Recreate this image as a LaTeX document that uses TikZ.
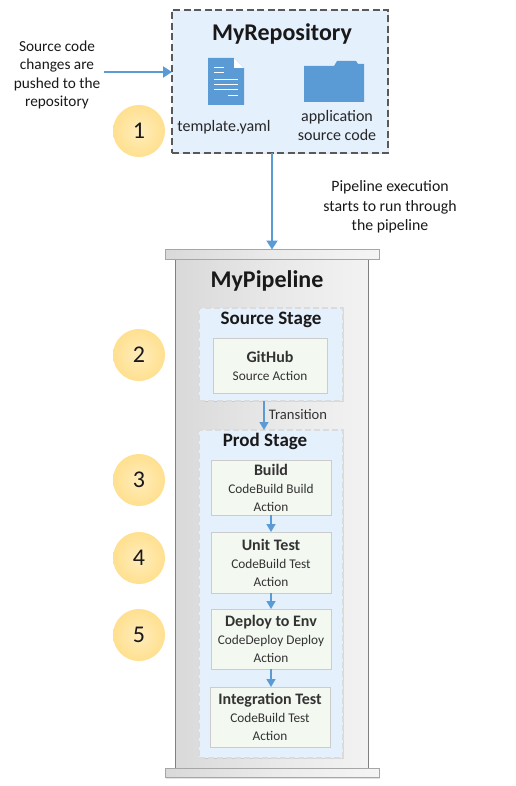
\documentclass[tikz,border=0pt]{standalone}
\usepackage{fontspec}
\setmainfont{Carlito}
\usetikzlibrary{arrows.meta,shadows,calc}
\definecolor{flow}{HTML}{5B9BD5}
\definecolor{stagefill}{HTML}{E5F0FD}
\definecolor{actfill}{HTML}{F3F8F1}
\definecolor{numfill}{HTML}{FFE08F}
\tikzset{
  x=1pt,y=-1pt,
  flowline/.style={draw=flow,line width=2.1pt,-{Triangle[length=9pt,width=11pt]}},
  smallflow/.style={draw=flow,line width=1.5pt,-{Triangle[length=8pt,width=9pt]}},
  softshadow/.style={general shadow={fill=black!60,opacity=.18,shadow xshift=1pt,shadow yshift=-1.2pt}},
  boxnode/.style={anchor=north west,inner sep=0pt,outer sep=0pt},
  repo/.style={boxnode,draw=black!65,fill=stagefill,line width=1.3pt,dash pattern=on 7pt off 3.5pt,minimum width=216pt,minimum height=143pt,softshadow},
  stage/.style={boxnode,draw=black!14,fill=stagefill,line width=1.1pt,dash pattern=on 6pt off 3pt,minimum width=144pt,softshadow},
  act/.style={boxnode,draw=black!20,fill=actfill,line width=.9pt,minimum width=120pt,softshadow,align=center,font=\fontsize{13.3}{18}\selectfont,text=black!80},
  bar/.style={boxnode,draw=black!35,line width=.8pt,minimum width=214pt,minimum height=9.5pt,left color=black!15,right color=black!4,middle color=black!8,softshadow},
  body/.style={boxnode,draw=black!50,line width=.8pt,minimum width=193pt,minimum height=509pt,left color=black!15,right color=black!5,middle color=black!9},
  num/.style={circle,minimum size=52pt,inner sep=0pt,inner color=numfill!60,outer color=numfill,font=\fontsize{24}{24}\selectfont,text=black!90},
  note/.style={align=center,font=\fontsize{15.3}{18.6}\selectfont,text=black!90},
  head/.style={font=\fontsize{19}{20}\selectfont\bfseries,text=black!90},
  title/.style={font=\fontsize{24}{26}\selectfont\bfseries,text=black!90}
}
\newcommand{\acttext}[2]{{\fontsize{16}{18}\selectfont\bfseries #1}\\#2}
\begin{document}
\begin{tikzpicture}
\useasboundingbox (0,0) rectangle (515,786);
\fill[white] (0,0) rectangle (515,786);
% repository
\node[repo] (repobox) at (172,10) {};
\node[title] (repotitle) at (282,33.5) {MyRepository};
\fill[flow] (208,58) -- (234,58) -- (244,68) -- (244,105) -- (208,105) -- cycle;
\fill[white] (234,58) -- (244,68) -- (234,68) -- cycle;
\foreach \a/\b/\y in {214/224/67,214/224/72,214/238/79,214/238/84,214/238/89,228/238/95}
  \draw[white,line width=.8pt] (\a,\y) -- (\b,\y);
\fill[flow] (304,66) -- (334,66) -- (337,61) -- (356,61) -- (358,64) -- (364,64) -- (364,102) -- (304,102) -- cycle;
\node[note,font=\fontsize{16}{19}\selectfont,text=black!85] (tmpl) at (224,127) {template.yaml};
\node[note,font=\fontsize{16}{19}\selectfont,text=black!85] (appsrc) at (337,126) {application\\source code};
% pushed note
\node[note] (pushnote) at (57,75) {Source code\\changes are\\pushed to the\\repository};
\coordinate (pushstart) at (104,72);
\draw[flowline] (pushstart) -- (repobox.west |- pushstart);
% pipeline
\node[body] (pipebody) at (175,259) {};
\node[bar] (topbar) at (165,249.5) {};
\node[bar] (botbar) at (165,768) {};
\draw[flowline] (repobox.south -| 272,0) -- (topbar.north -| 272,0);
\node[note,font=\fontsize{15.8}{19.5}\selectfont] (execnote) at (390,207) {Pipeline execution\\starts to run through\\the pipeline};
\node[title] (pipetitle) at (267,281) {MyPipeline};
% stages
\node[stage,minimum height=93pt] (srcstage) at (199,308) {};
\node[head] at (271,319.5) (srchead) {Source Stage};
\node[act,minimum width=114pt,minimum height=55pt] (github) at (213,338) {\acttext{GitHub}{Source Action}};
\node[stage,minimum height=328pt] (prodstage) at (199,430) {};
\node[head] at (265,441) (prodhead) {Prod Stage};
\draw[smallflow] (srcstage.south -| 264,0) -- (prodstage.north -| 264,0);
\node[note,font=\fontsize{14.6}{16}\selectfont,text=black!80] (translabel) at (298,414.5) {Transition};
\node[act,minimum height=55pt] (build) at (211,460) {\acttext{Build}{CodeBuild Build\\Action}};
\node[act,minimum height=61pt] (unittest) at (211,532) {\acttext{Unit Test}{CodeBuild Test\\Action}};
\node[act,minimum height=60pt] (deploy) at (211,609) {\acttext{Deploy to Env}{CodeDeploy Deploy\\Action}};
\node[act,minimum height=60pt] (integ) at (210,687) {\acttext{Integration Test}{CodeBuild Test\\Action}};
\draw[smallflow] (build.south -| 271,0) -- (unittest.north -| 271,0);
\draw[smallflow] (unittest.south -| 271,0) -- (deploy.north -| 271,0);
\draw[smallflow] (deploy.south -| 271,0) -- (integ.north -| 271,0);
% numbers
\node[num] (n1) at (139,131) {1};
\node[num] (n2) at (139,355) {2};
\node[num] (n3) at (139,480) {3};
\node[num] (n4) at (139,558) {4};
\node[num] (n5) at (139,635) {5};
\end{tikzpicture}
\end{document}
